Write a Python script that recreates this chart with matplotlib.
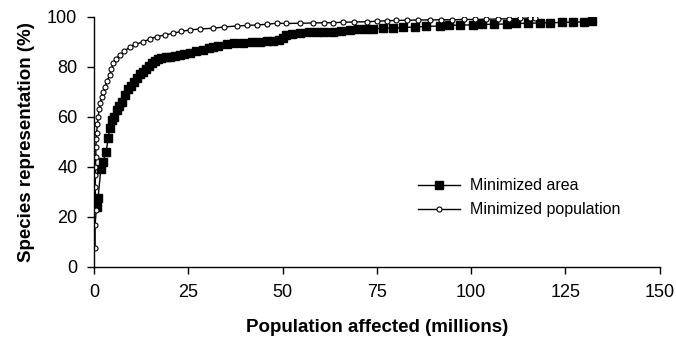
import matplotlib
matplotlib.use('Agg')
import matplotlib.pyplot as plt

# values
area_x = [0.8, 1.1, 1.8, 2.4, 3.2, 3.8, 4.2, 4.7, 5.3, 6.1, 6.6, 7.3, 8.2, 9.0, 9.8,
          10.6, 11.5, 12.3, 13.1, 13.9, 14.6, 15.3, 16.2, 17.0, 17.8, 19.0, 20.1,
          21.5, 22.8, 24.0, 25.4, 27.0, 29.0, 30.5, 31.6, 33.0, 35.2, 37.0, 39.6,
          42.0, 44.0, 46.0, 47.5, 49.0, 50.0, 51.0, 52.5, 54.6, 57.0, 59.0, 61.0,
          63.4, 65.5, 67.8, 70.0, 72.0, 74.0, 76.5, 79.3, 82.0, 85.0, 88.0, 91.7,
          94.0, 97.0, 100.5, 103.0, 106.0, 109.4, 112.0, 115.0, 118.2, 121.0,
          124.0, 127.0, 130.0, 132.0]
area_y = [24, 27.6, 39, 42, 46, 51.6, 55.6, 58.8, 60, 62.8, 64.5, 66, 68.8, 71, 72.5,
          74, 75.5, 77, 78, 79, 80.5, 81.6, 82.5, 83.2, 83.6, 83.8, 84,
          84.4, 84.8, 85.2, 85.6, 86.2, 86.8, 87.4, 88, 88.5, 89.2, 89.4, 89.6,
          89.8, 90, 90.2, 90.4, 90.8, 91.5, 92.8, 93.2, 93.6, 93.8, 94, 94,
          94.1, 94.5, 94.8, 95, 95.1, 95.2, 95.4, 95.6, 95.8, 96, 96.2, 96.4,
          96.6, 96.8, 96.8, 97, 97.1, 97.2, 97.4, 97.5, 97.6, 97.7,
          97.8, 98, 98, 98.2]

pop_x = [0.3, 0.3, 0.6, 0.3, 0.4, 0.4, 0.5, 0.5, 0.6, 0.7, 0.9, 1.1, 1.4, 1.7, 2.0,
         2.4, 2.9, 3.5, 4.2, 4.6, 5.1, 5.9, 6.9, 8.0, 9.5, 11.0, 13.1, 14.8, 16.6,
         18.8, 21.0, 23.0, 25.4, 28.0, 31.6, 34.5, 37.8, 40.5, 43.1, 46.0, 48.4,
         51.0, 54.6, 58.0, 61.0, 63.4, 66.0, 69.0, 72.3, 75.0, 77.6, 80.0, 83.0,
         86.0, 89.0, 92.0, 95.0, 98.0, 101.0, 104.0, 107.0, 110.0, 113.0, 115.6, 117.0]
pop_y = [7.6, 16.8, 22.8, 32, 36.8, 40, 44, 48, 51, 53.6, 57, 60, 63, 65.5, 68,
         70, 72, 74.5, 76.8, 79, 81.6, 83.3, 84.8, 86.2, 88, 89, 90.1, 91.2, 92.1,
         92.8, 93.5, 94.2, 94.8, 95.2, 95.5, 96, 96.4, 96.6, 96.8, 97.1, 97.5,
         97.4, 97.5, 97.6, 97.7, 97.7, 97.9, 98, 98.1, 98.3, 98.5, 98.6, 98.7,
         98.8, 98.8, 98.9, 98.9, 99, 99, 99.1, 99.2, 99.3, 99.4, 99.6, 99.6]

x_ticks = [0, 25, 50, 75, 100, 125, 150]
y_ticks = [0, 20, 40, 60, 80, 100]

plt.rcParams['font.family'] = ['Liberation Sans', 'DejaVu Sans']

fig = plt.figure(figsize=(6.76, 3.39), dpi=100)
ax = fig.add_axes([0.139, 0.2124, 0.837, 0.7375])

ax.plot(area_x, area_y, color='black', lw=1.0, marker='s', ms=5.5,
        mfc='black', mec='black', label='Minimized area')
ax.plot(pop_x, pop_y, color='black', lw=1.0, marker='o', ms=3.6,
        mfc='white', mec='black', mew=0.8, label='Minimized population')

ax.set_xlim(0, 150)
ax.set_ylim(0, 100)
ax.set_xticks(x_ticks)
ax.set_yticks(y_ticks)
ax.tick_params(direction='out', length=5, width=1, labelsize=13, colors='black', pad=7)
ax.spines['top'].set_visible(False)
ax.spines['right'].set_visible(False)
for s in ['left', 'bottom']:
    ax.spines[s].set_linewidth(1.0)

ax.set_xlabel('Population affected (millions)', fontsize=13.5, fontweight='bold', labelpad=13)
ax.set_ylabel('Species representation (%)', fontsize=13.5, fontweight='bold', labelpad=9)

ax.legend(loc='upper left', bbox_to_anchor=(412 / 676, 1 - 172 / 339),
          bbox_transform=fig.transFigure, frameon=False, fontsize=11.5,
          handlelength=2.6, handletextpad=0.6, labelspacing=0.55, borderaxespad=0)

fig.savefig('out.png', dpi=100)
